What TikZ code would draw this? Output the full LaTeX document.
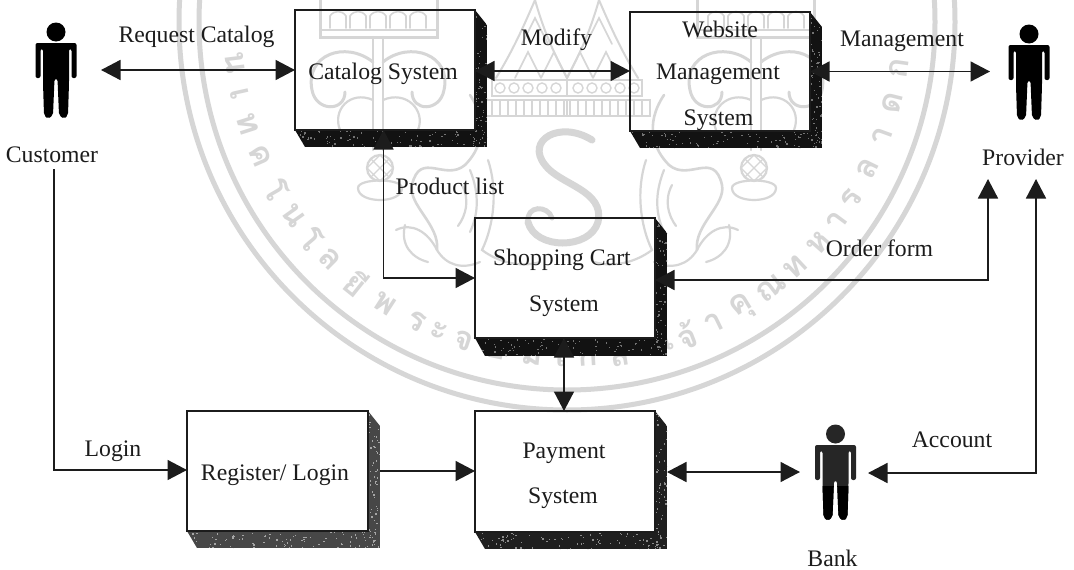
\documentclass[tikz,border=0pt]{standalone}
\usepackage{fontspec}
\setmainfont{Liberation Serif}
\newfontfamily\thaifont[Script=Thai]{Loma}
\usetikzlibrary{arrows.meta,calc}
\definecolor{ink}{gray}{0.11}
\definecolor{seal}{gray}{0.84}
\tikzset{
  x=1pt,y=-1pt,
  lbl/.style={inner sep=0pt,font=\fontsize{23.7}{28}\selectfont,text=ink},
  boxtext/.style={inner sep=0pt,font=\fontsize{23.7}{28}\selectfont,text=ink,align=center},
  sealtext/.style={inner sep=0pt,font=\thaifont\bfseries\fontsize{33}{38}\selectfont,text=seal},
  sealline/.style={draw=seal,line width=2.2pt,line cap=round},
  link/.style={draw=ink,line width=1.6pt},
  one/.style={link,-{Triangle[length=19.5pt,width=20pt]}},
  two/.style={link,{Triangle[length=19.5pt,width=20pt]}-{Triangle[length=19.5pt,width=20pt]}},
  front/.style={draw=ink,line width=1.4pt},
  person/.pic={
    \fill[#1] (0,-41) circle (9.5);
    \fill[#1,rounded corners=2pt] (-20.5,-30) -- (20.5,-30) -- (20.5,5) -- (15.5,5) -- (15.5,-24) -- (13,-24) -- (13,10) -- (12,42) -- (8,46) -- (3,42) -- (1.5,6) -- (-1.5,6) -- (-3,42) -- (-8,46) -- (-12,42) -- (-13,10) -- (-13,-24) -- (-15.5,-24) -- (-15.5,5) -- (-20.5,5) -- cycle;
  }
}
% name, l, t, r, b, outer r, outer b, base shade, speck shade
\newcommand{\bevelbox}[9]{%
  \begin{scope}
    \clip (#4,#3) -- (#6,{#3+15}) -- (#6,#7) -- ({#2+10},#7) -- (#2,#5) -- (#4,#5) -- cycle;
    \fill[#8] (#2,#3) rectangle (#6,#7);
    \foreach \i in {1,...,60}{
      \pgfmathsetmacro{\xx}{#4+rnd*(#6-#4)}
      \pgfmathsetmacro{\yy}{#3+rnd*(#7-#3)}
      \fill[#9] (\xx,\yy) rectangle ++(1.3,1.3);
    }
    \foreach \i in {1,...,90}{
      \pgfmathsetmacro{\xx}{#2+rnd*(#6-#2)}
      \pgfmathsetmacro{\yy}{#5+rnd*(#7-#5)}
      \fill[#9] (\xx,\yy) rectangle ++(1.3,1.3);
    }
  \end{scope}
  \draw[front] (#2,#3) rectangle (#4,#5);
  \coordinate (#1-c) at ({(#2+#4)/2},{(#3+#5)/2});
}
\newcommand{\emblemhalf}{%
  % crown
  \draw[sealline,line width=3pt] (320,-3) -- (320,37) -- (437,37) -- (437,-3);
  \draw[sealline] (320,30) -- (437,30);
  \foreach \a in {330,350,...,410}{
    \draw[sealline,line width=1.6pt] (\a,28) -- (\a,16) .. controls ({\a+4},10) and ({\a+12},10) .. ({\a+16},16) -- ({\a+16},28);
  }
  % stem and scrolls
  \draw[sealline] (373,37) -- (373,150) (383,37) -- (383,150);
  \draw[sealline,line width=3pt] (373,62) .. controls (345,40) and (305,55) .. (312,90) .. controls (316,112) and (345,112) .. (345,92);
  \draw[sealline,line width=3pt] (383,62) .. controls (410,40) and (452,55) .. (444,90) .. controls (440,112) and (412,112) .. (412,92);
  \draw[sealline] (373,100) .. controls (350,90) and (332,110) .. (340,130);
  \draw[sealline] (383,100) .. controls (406,90) and (426,110) .. (418,130);
  % vase
  \draw[sealline] (380,168) circle (13);
  \draw[sealline,line width=1.2pt] (371,159) -- (389,177) (389,159) -- (371,177) (380,155) -- (393,168) -- (380,181) -- (367,168) -- cycle;
  \draw[sealline] (358,188) .. controls (358,178) and (402,178) .. (402,188) .. controls (402,204) and (358,204) .. (358,188);
  % naga
  \draw[sealline,line width=2.6pt] (470,95) .. controls (490,125) and (480,150) .. (465,165) .. controls (445,182) and (420,150) .. (412,185) .. controls (408,205) and (440,225) .. (437,250);
  \draw[sealline] (437,250) .. controls (428,232) and (412,222) .. (396,230);
  \draw[sealline] (437,250) .. controls (446,265) and (462,270) .. (480,262);
  \draw[sealline] (470,170) .. controls (480,195) and (478,215) .. (470,232);
  \draw[sealline] (462,185) .. controls (470,200) and (466,215) .. (458,226);
  \draw[sealline] (488,160) .. controls (498,190) and (494,225) .. (482,250) .. controls (498,262) and (520,268) .. (540,262);
  \draw[sealline] (405,225) .. controls (400,245) and (412,258) .. (428,262);
  % roof and band
  \draw[sealline,line width=1.8pt] (492,80) rectangle (567,96);
  \foreach \a in {500,514,...,556}{\draw[sealline,line width=1.4pt] (\a,88) circle (5);}
  \draw[sealline,line width=1.8pt] (484,100) rectangle (567,116);
  \foreach \a in {492,500,...,564}{\draw[sealline,line width=1.4pt] (\a,100) -- (\a,116);}
  \draw[sealline,line width=2pt] (496,78) .. controls (510,55) and (520,35) .. (535,0) .. controls (545,35) and (555,55) .. (567,78);
  \draw[sealline,line width=1.6pt] (515,78) -- (528,52) -- (541,78) (541,78) -- (554,52) -- (567,78);
  \draw[sealline,line width=1.6pt] (522,44) -- (535,18) -- (548,44);
}
\begin{document}
\begin{tikzpicture}
\useasboundingbox (0,0) rectangle (1074,570);
\fill[white] (0,0) rectangle (1074,570);
\pgfmathsetseed{4242}
% watermark seal
\begin{scope}
\clip (0,0) rectangle (1074,570);
\draw[seal,line width=5pt] (567,22) circle (388);
\draw[seal,line width=5pt] (567,22) circle (368);
\foreach \ang/\g in {-83/น,-77.5/เ,-72.3/ท,-66.4/ค,-60/โ,-54.7/น,-49.7/โ,-44.9/ล,-38.8/ยี,-32.9/พ,-26.7/ร,-22.5/ะ,-18/จ,-12/อ,-6/ม,-1/เ,3.5/ก,9/ล้,14/า,17.5/เ,21/จ้,26/า,31.5/คุ,37.5/ณ,43/ท,48.7/ห,53.5/า,58/ร,64/ล,70/า,76/ด,82/ก}{
  \node[sealtext,rotate=\ang] (g\ang) at ({567+335*sin(\ang)},{22+335*cos(\ang)}) {\g};
}
\emblemhalf
\begin{scope}[shift={(1134,0)},xscale=-1]
\emblemhalf
\end{scope}
% central S
\draw[seal,line width=7pt,line cap=round] (592,140) .. controls (560,120) and (525,140) .. (545,165) .. controls (560,185) and (605,190) .. (598,222) .. controls (590,250) and (535,250) .. (528,222);
\draw[seal,line width=5pt,line cap=round] (528,222) .. controls (526,205) and (548,205) .. (552,218);
\end{scope}
% boxes
\bevelbox{cat}{295}{10}{475}{130}{487}{147}{black!93}{black!55}
\bevelbox{web}{630}{12}{810}{131}{822}{148}{black!93}{black!55}
\bevelbox{shop}{475}{218}{655}{338}{667}{356}{black!93}{black!55}
\bevelbox{reg}{187}{411}{368}{531}{380}{548}{black!72}{black!35}
\bevelbox{pay}{475}{411}{655}{532}{667}{549}{black!88}{black!45}
\node[boxtext] (catT) at (383,74) {Catalog System};
\node[boxtext] (webA) at (720,29) {Website};
\node[boxtext] (webB) at (718,74) {Management};
\node[boxtext] (webC) at (718.5,120) {System};
\node[boxtext] (shopA) at (562,260) {Shopping Cart};
\node[boxtext] (shopB) at (564,306) {System};
\node[boxtext] (regT) at (275,475) {Register/ Login};
\node[boxtext] (payA) at (564,453) {Payment};
\node[boxtext] (payB) at (563,498) {System};
% people
\pic at (56,73) {person=black};
\pic at (1029,75) {person=black};
\pic at (835.5,475) {person=black!85};
\begin{scope}
\clip (810,486) rectangle (860,525);
\pic at (835.5,475) {person=black};
\end{scope}
\node[lbl] (customer) at (52,155) {Customer};
\node[lbl] (provider) at (1023,157) {Provider};
\node[lbl] (bank) at (832.5,558) {Bank};
% anchor points
\coordinate (custR) at (101,70);
\coordinate (catL) at (295,70);
\coordinate (catR) at (475,71);
\coordinate (webL) at (630,71);
\coordinate (webR) at (810,71.5);
\coordinate (provL) at (990,71.5);
\coordinate (catB) at (383.5,130);
\coordinate (shopL) at (475,278);
\coordinate (shopR) at (655,280);
\coordinate (provB) at (988,179);
\coordinate (provBB) at (1036,179);
\coordinate (shopB2) at (564,338);
\coordinate (payT) at (564,411);
\coordinate (custB) at (54,169);
\coordinate (regL) at (187,470);
\coordinate (regR) at (380,471);
\coordinate (payL) at (475,471);
\coordinate (payR) at (667,472);
\coordinate (bankL) at (800,472);
\coordinate (bankR) at (868,473);
% connectors
\draw[two] (custR) -- (catL);
\draw[two] (catR) -- (webL);
\draw[two] (webR) -- (provL);
\draw[two] (catB) |- (shopL);
\draw[two] (shopR) -| (provB);
\draw[two] (shopB2) -- (payT);
\draw[one] (custB) |- (regL);
\draw[one] (regR) -- (payL);
\draw[two] (payR) -- (bankL);
\draw[two] (bankR) -| (provBB);
% labels
\node[lbl] (l1) at (196.5,37) {Request Catalog};
\node[lbl] (l2) at (556.5,40) {Modify};
\node[lbl] (l3) at (902,41) {Management};
\node[lbl] (l4) at (450,186) {Product list};
\node[lbl] (l5) at (879.5,248) {Order form};
\node[lbl] (l6) at (113,451) {Login};
\node[lbl] (l7) at (952,440) {Account};
\end{tikzpicture}
\end{document}
